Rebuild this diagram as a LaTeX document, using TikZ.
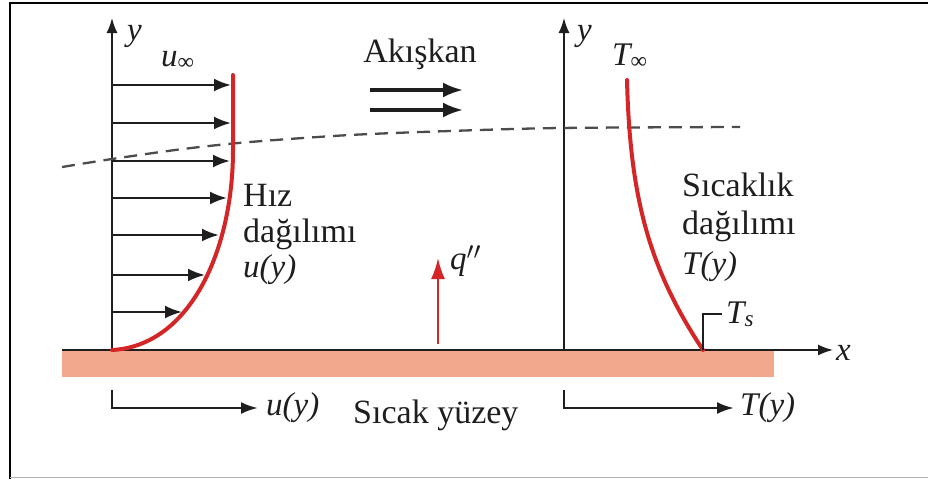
\documentclass[tikz,border=0pt]{standalone}
\usepackage{fontspec}
\setmainfont{Liberation Serif}
\usetikzlibrary{arrows.meta}
\definecolor{plate}{RGB}{241,168,140}
\definecolor{curvered}{RGB}{212,38,38}
\definecolor{ink}{RGB}{30,30,30}
\begin{document}
\begin{tikzpicture}[x=1pt,y=-1pt,
  lbl/.style={inner sep=0pt, text=ink, font=\fontsize{34}{38}\selectfont},
  ilbl/.style={inner sep=0pt, text=ink, font=\fontsize{33}{38}\selectfont\itshape},
  axisarrow/.style={line width=1.6pt, draw=ink, -{Latex[length=15pt,width=11pt]}},
  velarrow/.style={line width=2.4pt, draw=ink, -{Latex[length=17pt,width=13pt]}},
  flowarrow/.style={line width=3.2pt, draw=ink, -{Latex[length=20pt,width=15pt]}},
  brackarrow/.style={line width=2.6pt, draw=ink, -{Latex[length=17pt,width=12pt]}},
  profile/.style={line width=4pt, draw=curvered, line cap=round},
  blayer/.style={line width=2.3pt, draw=black!70, dash pattern=on 13pt off 8pt}
]
\useasboundingbox (0,0) rectangle (928,479);
% frame
\draw[line width=2pt, black] (10,479) -- (10,3) -- (928,3);
\draw[line width=1pt, black!30] (10,477) -- (928,477);

% hot plate
\fill[plate] (62,351) rectangle (774,377);

% coordinates
\coordinate (O1) at (112,350);
\coordinate (Y1) at (112,18);
\coordinate (O2) at (564,350);
\coordinate (Y2) at (564,18);
\coordinate (XL) at (62,350);
\coordinate (XR) at (833,350);

% x axis and y axes
\draw[axisarrow] (XL) -- (XR);
\draw[axisarrow] (O1) -- (Y1);
\draw[axisarrow] (O2) -- (Y2);

% boundary layer (dashed)
\draw[blayer] plot[smooth] coordinates {(62,167) (112,159) (183,149) (250,142) (350,135) (450,131) (560,128) (740,127)};

% velocity arrows
\foreach \yy/\xx [count=\i] in {85/231,123/231,161/230,198/227,235/219,275/205,312/182}{
  \coordinate (vs\i) at (112,\yy);
  \coordinate (ve\i) at (\xx,\yy);
  \draw[velarrow] (vs\i) -- (ve\i);
}

% velocity profile
\coordinate (vp0) at (112,350);
\coordinate (vp1) at (233,150);
\coordinate (vp2) at (233,75);
\draw[profile] (vp0) .. controls (190,346) and (233,250) .. (vp1) -- (vp2);

% temperature profile
\coordinate (tp0) at (627,80);
\coordinate (tp1) at (703,350);
\draw[profile] (tp0) .. controls (630,200) and (650,270) .. (tp1);

% T_s bracket
\coordinate (TsB) at (703,314);
\coordinate (TsC) at (722,314);
\draw[line width=1.6pt, ink] (tp1) -- (TsB) -- (TsC);

% flow arrows
\coordinate (fa1) at (370,90);
\coordinate (fb1) at (463,90);
\coordinate (fa2) at (370,110);
\coordinate (fb2) at (463,110);
\draw[flowarrow] (fa1) -- (fb1);
\draw[flowarrow] (fa2) -- (fb2);

% heat flux arrow
\coordinate (qa) at (438,344);
\coordinate (qb) at (438,258);
\draw[line width=2.2pt, draw=curvered, -{Latex[length=21pt,width=14pt]}] (qa) -- (qb);

% bottom bracket arrows
\coordinate (ba1) at (112,390);
\coordinate (bb1) at (112,408);
\coordinate (bc1) at (258,408);
\draw[brackarrow] (ba1) -- (bb1) -- (bc1);
\coordinate (ba2) at (564,390);
\coordinate (bb2) at (564,408);
\coordinate (bc2) at (734,408);
\draw[brackarrow] (ba2) -- (bb2) -- (bc2);

% labels
\node[ilbl, anchor=base west] (ly1) at (127,40) {y};
\node[ilbl, anchor=base west] (ly2) at (577,40) {y};
\node[ilbl, anchor=base west] (lx) at (836,360) {x};
\node[ilbl, anchor=base west] (luinf) at (161,66) {u\textsubscript{\upshape ∞}};
\node[ilbl, anchor=base west] (ltinf) at (612,65) {T\textsubscript{\upshape ∞}};
\node[lbl, anchor=base] (lflow) at (420,62) {Akışkan};
\node[lbl, anchor=base west] (lhiz1) at (243,206) {Hız};
\node[lbl, anchor=base west] (lhiz2) at (243,242) {dağılımı};
\node[ilbl, anchor=base west] (lhiz3) at (243,277) {u(y)};
\node[lbl, anchor=base west] (lsic1) at (682,196) {Sıcaklık};
\node[lbl, anchor=base west] (lsic2) at (682,234) {dağılımı};
\node[ilbl, anchor=base west] (lsic3) at (682,274) {T(y)};
\node[ilbl, anchor=base west] (lts) at (726,323) {T\textsubscript{s}};
\node[ilbl, anchor=base west] (lq) at (450,269) {q$^{\prime\prime}$};
\node[ilbl, anchor=base west] (lub) at (266,415) {u(y)};
\node[ilbl, anchor=base west] (ltb) at (740,415) {T(y)};
\node[lbl, anchor=base west] (lsurf) at (353,423) {Sıcak yüzey};
\end{tikzpicture}
\end{document}
